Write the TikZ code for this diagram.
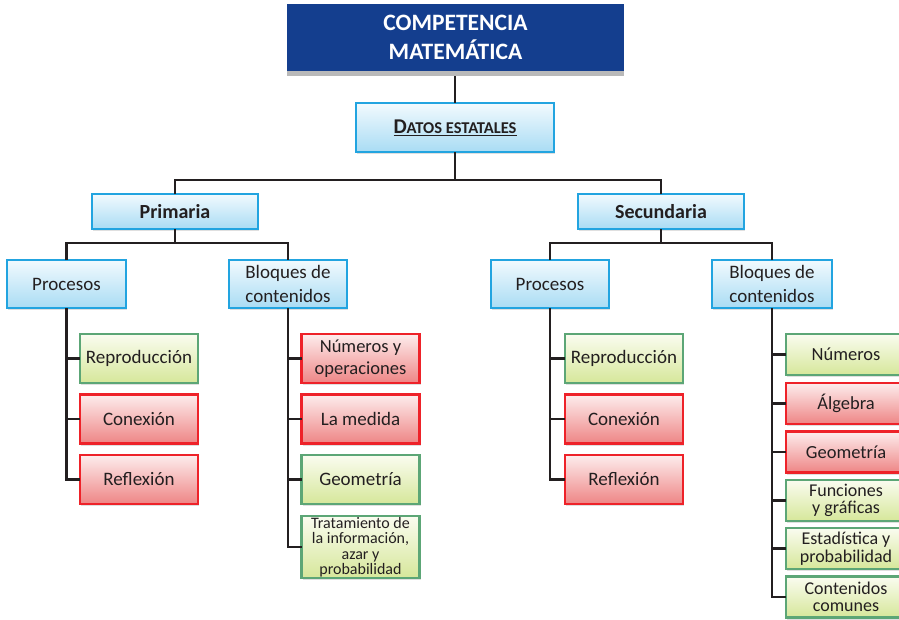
\documentclass[tikz,border=0pt]{standalone}
\usepackage{fontspec}
\setmainfont{Carlito}
\usetikzlibrary{shadows}
\definecolor{titleblue}{HTML}{143E8E}
\definecolor{bborder}{HTML}{22A4E0}
\definecolor{btop}{HTML}{F2FAFE}
\definecolor{bbot}{HTML}{A9DCF4}
\definecolor{gborder}{HTML}{5CA676}
\definecolor{gtop}{HTML}{FAFCF0}
\definecolor{gbot}{HTML}{D6E79A}
\definecolor{rborder}{HTML}{EE2229}
\definecolor{rtop}{HTML}{FDEDED}
\definecolor{rbot}{HTML}{EE8585}
\definecolor{linecol}{HTML}{231F20}
\definecolor{txt}{HTML}{231F20}
\begin{document}
\begin{tikzpicture}[x=1pt,y=-1pt,
  base/.style={rectangle, inner sep=0pt, outer sep=0pt, align=center, text=txt,
    line width=2.2pt, drop shadow={shadow xshift=1pt, shadow yshift=-2pt, opacity=0.25},
    font=\fontsize{19}{24}\selectfont},
  bluebox/.style={base, draw=bborder, top color=btop, bottom color=bbot},
  greenbox/.style={base, draw=gborder, top color=gtop, bottom color=gbot},
  redbox/.style={base, draw=rborder, top color=rtop, bottom color=rbot},
  conn/.style={draw=linecol, line width=2.4pt},
  ]
\useasboundingbox (0,0) rectangle (899,619);
% title
\fill[gray!55] (287,70) rectangle (624,76);
\coordinate (tb) at (455,76);
\node[rectangle, fill=titleblue, minimum width=337pt, minimum height=67pt, inner sep=0pt, text=white, align=center,
  font=\bfseries\fontsize{23.5}{29}\selectfont] (title) at (455.5,37.5) {COMPETENCIA\\MATEMÁTICA};
\node[bluebox, minimum width=198pt, minimum height=49pt, font=\bfseries] (datos) at (455,127.5)
  {\underline{{\fontsize{21}{24}\selectfont D}{\fontsize{16.5}{24}\selectfont ATOS ESTATALES}}};
\node[bluebox, minimum width=166pt, minimum height=35pt, font=\bfseries\fontsize{20}{24}\selectfont] (prim) at (175,211.5) {Primaria};
\node[bluebox, minimum width=166pt, minimum height=35pt, font=\bfseries\fontsize{20}{24}\selectfont] (sec) at (661,211.5) {Secundaria};
\node[bluebox, minimum width=119pt, minimum height=48pt] (lproc) at (66.5,284) {Procesos};
\node[bluebox, minimum width=118pt, minimum height=48pt] (lbloq) at (288,284) {Bloques de\\contenidos};
\node[bluebox, minimum width=118pt, minimum height=48pt] (rproc) at (550,284) {Procesos};
\node[bluebox, minimum width=120pt, minimum height=48pt] (rbloq) at (772,284) {Bloques de\\contenidos};
% children of the procesos and left bloques boxes
\begin{scope}[every node/.append style={minimum width=118pt, minimum height=49pt}]
\node[greenbox] (lrep) at (139,358.5) {Reproducción};
\node[redbox] (lcon) at (139,419) {Conexión};
\node[redbox] (lref) at (139,479.5) {Reflexión};
\node[redbox, font=\fontsize{18.5}{22}\selectfont] (lnum) at (360.5,358.5) {Números y\\operaciones};
\node[redbox] (lmed) at (360.5,419) {La medida};
\node[greenbox] (lgeo) at (360.5,479.5) {Geometría};
\node[greenbox] (rrep) at (624,358.5) {Reproducción};
\node[redbox] (rcon) at (624,419) {Conexión};
\node[redbox] (rref) at (624,479.5) {Reflexión};
\end{scope}
\node[greenbox, minimum width=118pt, minimum height=62pt, font=\fontsize{16}{15.5}\selectfont] (ltra) at (360.5,547)
  {Tratamiento de\\la información,\\azar y\\probabilidad};
% right bloques children
\begin{scope}[every node/.append style={minimum width=120pt, minimum height=41pt}]
\node[greenbox, font=\fontsize{18.5}{20}\selectfont] (rnum) at (846,354.5) {Números};
\node[redbox, font=\fontsize{18.5}{20}\selectfont] (ralg) at (846,403.5) {Álgebra};
\node[redbox, font=\fontsize{18.5}{20}\selectfont] (rgeo) at (846,452) {Geometría};
\node[greenbox, font=\fontsize{18}{17.5}\selectfont] (rfun) at (846,500.5) {Funciones\\y gráficas};
\node[greenbox, font=\fontsize{18}{17.5}\selectfont] (rest) at (846,548.5) {Estadística y\\probabilidad};
\node[greenbox, font=\fontsize{18}{17.5}\selectfont] (rcom) at (846,597) {Contenidos\\comunes};
\end{scope}
% connectors
\coordinate (j1) at (455,180);
\coordinate (j2) at (175,243);
\coordinate (j3) at (661,243);
\draw[conn] (tb) -- (datos.north);
\draw[conn] (datos.south) -- (j1);
\draw[conn] (prim.north) |- (j1) -| (sec.north);
\draw[conn] (prim.south) -- (j2);
\draw[conn] (lproc.north) |- (j2) -| (lbloq.north);
\draw[conn] (sec.south) -- (j3);
\draw[conn] (rproc.north) |- (j3) -| (rbloq.north);
\draw[conn] (lproc.south) |- (lref.west);
\draw[conn] (lproc.south |- lrep.west) -- (lrep.west);
\draw[conn] (lproc.south |- lcon.west) -- (lcon.west);
\draw[conn] (lbloq.south) |- (ltra.west);
\draw[conn] (lbloq.south |- lnum.west) -- (lnum.west);
\draw[conn] (lbloq.south |- lmed.west) -- (lmed.west);
\draw[conn] (lbloq.south |- lgeo.west) -- (lgeo.west);
\draw[conn] (rproc.south) |- (rref.west);
\draw[conn] (rproc.south |- rrep.west) -- (rrep.west);
\draw[conn] (rproc.south |- rcon.west) -- (rcon.west);
\draw[conn] (rbloq.south) |- (rcom.west);
\draw[conn] (rbloq.south |- rnum.west) -- (rnum.west);
\draw[conn] (rbloq.south |- ralg.west) -- (ralg.west);
\draw[conn] (rbloq.south |- rgeo.west) -- (rgeo.west);
\draw[conn] (rbloq.south |- rfun.west) -- (rfun.west);
\draw[conn] (rbloq.south |- rest.west) -- (rest.west);
\end{tikzpicture}
\end{document}
